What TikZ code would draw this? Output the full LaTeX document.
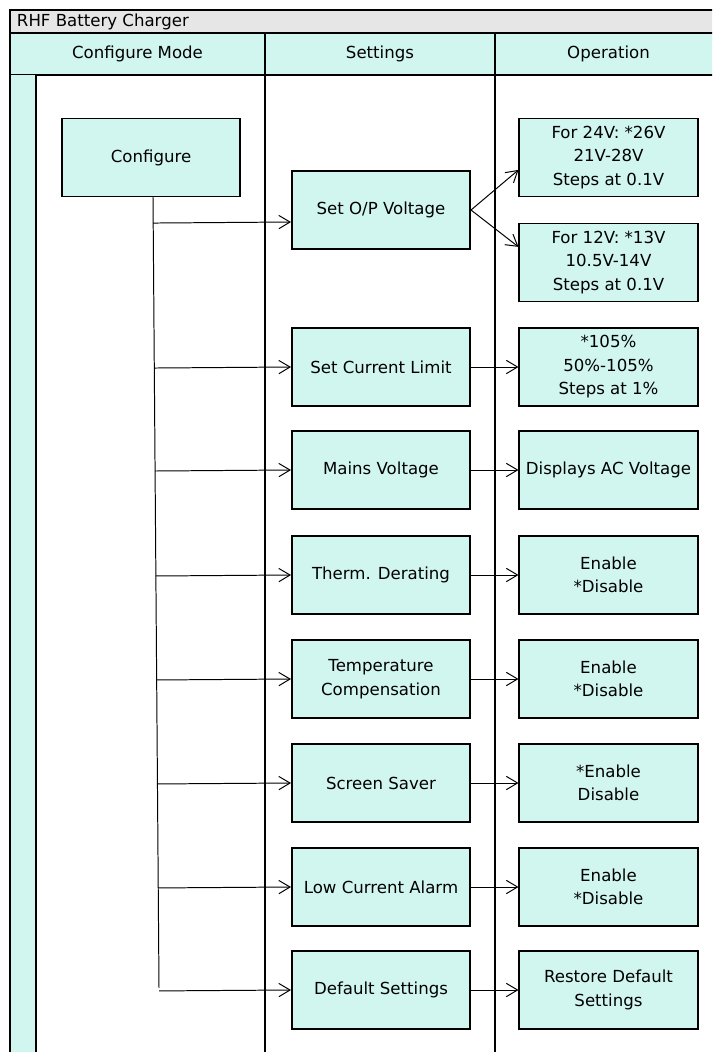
\documentclass[tikz,border=0pt]{standalone}
\usepackage{fontspec}
\setmainfont{DejaVu Sans}
\usetikzlibrary{arrows.meta,calc}

\definecolor{lanecyan}{RGB}{209,246,239}
\definecolor{titlegray}{RGB}{230,230,230}

\tikzset{
  stepbox/.style={draw, line width=1.4pt, fill=lanecyan, align=center,
    minimum width=4.45cm, minimum height=1.95cm, inner sep=1pt},
  lanehead/.style={draw, line width=1.4pt, fill=lanecyan},
  flow/.style={line width=0.7pt, -{Straight Barb[length=8pt,width=9.5pt]}},
}

\begin{document}
\begin{tikzpicture}[x=0.025cm, y=-0.025cm,
    every node/.style={font=\fontsize{11.8}{16.7}\selectfont}]
  \useasboundingbox (0,0) rectangle (712,1052);
  \clip (0,0) rectangle (712,1052);

  % ---- タイトル行 ----
  \fill[titlegray] (10,10) rectangle (722,33);
  \draw[line width=1.4pt] (722,10) -- (10,10) -- (10,1060);
  \node[anchor=west] (title) at (12,22) {RHF Battery Charger};

  % ---- レーン見出しと区切り線 ----
  \foreach \xa/\xb/\name [count=\k] in {10/265/Configure Mode, 265/495/Settings, 495/722/Operation}{%
    \draw[lanehead] (\xa,33) rectangle (\xb,75);
    \node (hd\k) at ({(\xa+\xb)/2},54) {\name};
    \draw[line width=1.4pt] (\xb,75) -- (\xb,1060);
  }

  % ---- 左の帯 ----
  \fill[lanecyan] (10,75) rectangle (36,1060);
  \draw[line width=0.8pt] (10,75) -- (10,1060);
  \draw[line width=1.4pt] (36,75) -- (36,1060);

  % ---- Configure と幹線 ----
  \node[stepbox] (cfg) at (151,157.5) {Configure};
  \coordinate (tktop) at (153,197);
  \coordinate (tkbot) at (159,988);
  \draw[line width=0.7pt] (tktop) -- (tkbot);

  % ---- Set O/P Voltage（出力 2 つ） ----
  \node[stepbox] (setv) at (381,210) {Set O/P Voltage};
  \node[stepbox] (opa) at (608.5,157.5) {For 24V: *26V \\ 21V-28V \\ Steps at 0.1V};
  \node[stepbox] (opb) at (608.5,262.5) {For 12V: *13V \\ 10.5V-14V \\ Steps at 0.1V};
  \draw[flow] ($(tktop)!([yshift=-0.3cm]setv.west)!(tkbot)$) -- ([yshift=-0.3cm]setv.west);
  \draw[flow] (setv.east) -- ([yshift=-0.31cm]opa.west);
  \draw[flow] (setv.east) -- ([yshift=0.39cm]opb.west);

  % ---- 残りの設定項目 ----
  \foreach \y/\s/\o [count=\k] in {%
    367/{Set Current Limit}/{*105\% \\ 50\%-105\% \\ Steps at 1\%},%
    470/{Mains Voltage}/{Displays AC Voltage},%
    575/{Therm. Derating}/{Enable \\ *Disable},%
    679/{Temperature \\ Compensation}/{Enable \\ *Disable},%
    783/{Screen Saver}/{*Enable \\ Disable},%
    887/{Low Current Alarm}/{Enable \\ *Disable},%
    990/{Default Settings}/{Restore Default \\ Settings}}{%
    \node[stepbox] (set\k) at (381,\y) {\s};
    \node[stepbox] (op\k) at (608.5,\y) {\o};
    \draw[flow] ($(tktop)!(set\k.west)!(tkbot)$) -- (set\k.west);
    \draw[flow] (set\k.east) -- (op\k.west);
  }
\end{tikzpicture}
\end{document}
